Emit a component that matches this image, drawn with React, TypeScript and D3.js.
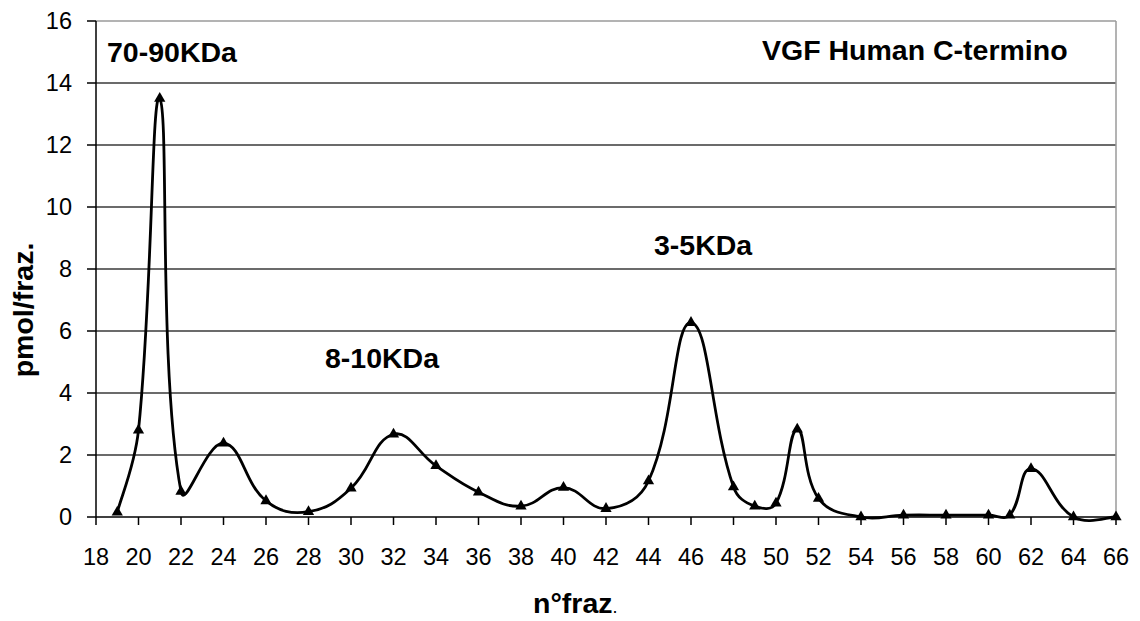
import React from "react";
import * as d3 from "d3";

// Fractions (n° fraz.) and measured amounts (pmol/fraz.)
const fractions = [19, 20, 21, 22, 24, 26, 28, 30, 32, 34, 36, 38, 40, 42, 44, 46, 48, 49, 50, 51, 52, 54, 56, 58, 60, 61, 62, 64, 66];
const pmol = [0.15, 2.8, 13.5, 0.82, 2.38, 0.52, 0.17, 0.93, 2.67, 1.65, 0.8, 0.35, 0.95, 0.27, 1.16, 6.27, 0.97, 0.35, 0.44, 2.83, 0.6, 0.0, 0.06, 0.06, 0.06, 0.06, 1.56, 0.0, 0.0];

const xTicks = d3.range(18, 67, 2);
const yTicks = d3.range(0, 17, 2);

const annotations = [
  { text: "70-90KDa", x: 107, y: 62 },
  { text: "VGF Human C-termino", x: 762, y: 60 },
  { text: "8-10KDa", x: 325, y: 368 },
  { text: "3-5KDa", x: 654, y: 255 },
];

const W = 1140;
const H = 621;
const plot = { left: 96, right: 1116, top: 21, bottom: 517 };
const FONT = "'Liberation Sans', Arial, sans-serif";

// Smoothed line: cubic Bézier segments whose tangents are weighted by the
// lengths of the neighbouring chords, which keeps overshoot small next to steep jumps.
function smoothPath(pts: [number, number][], tension = 0.42): string {
  const p = d3.path();
  const n = pts.length;
  if (!n) return "";
  const dist = (a: [number, number], b: [number, number]) => Math.hypot(b[0] - a[0], b[1] - a[1]);
  const tangent = (i: number): [number, number] => {
    const a = pts[Math.max(0, i - 1)];
    const b = pts[Math.min(n - 1, i + 1)];
    return [b[0] - a[0], b[1] - a[1]];
  };
  const weight = (i: number, j: number) => {
    // share of the chord (i -> j) among the two chords around point i
    const prev = i > 0 && i < n - 1 ? dist(pts[i - 1], pts[i]) + dist(pts[i], pts[i + 1]) : dist(pts[i], pts[j]);
    const w = dist(pts[i], pts[j]) / prev;
    return i === 0 || i === n - 1 ? w * 0.5 : w;
  };
  p.moveTo(pts[0][0], pts[0][1]);
  for (let i = 0; i < n - 1; i++) {
    const a = pts[i];
    const b = pts[i + 1];
    const ta = tangent(i);
    const tb = tangent(i + 1);
    const wa = weight(i, i + 1) * tension;
    const wb = weight(i + 1, i) * tension;
    p.bezierCurveTo(a[0] + ta[0] * wa, a[1] + ta[1] * wa, b[0] - tb[0] * wb, b[1] - tb[1] * wb, b[0], b[1]);
  }
  return p.toString();
}

export default function App() {
  const x = d3.scaleLinear().domain([18, 66]).range([plot.left, plot.right]);
  const y = d3.scaleLinear().domain([0, 16]).range([plot.bottom, plot.top]);

  const points: [number, number][] = fractions.map((f, i) => [x(f), y(pmol[i])]);
  const line = smoothPath(points);
  const tri = d3.symbol().type(d3.symbolTriangle).size(55)() || "";

  return (
    <div style={{ position: "fixed", left: 0, top: 0 }}>
      <svg width={W} height={H} style={{ display: "block", background: "#fff" }}>
        {/* horizontal gridlines */}
        {yTicks.filter((t) => t > 0 && t < 16).map((t) => (
          <line key={"g" + t} x1={plot.left} x2={plot.right} y1={y(t)} y2={y(t)} stroke="#3a3a3a" strokeWidth={1.5} />
        ))}
        {/* frame: top and right in light gray */}
        <line x1={plot.left} x2={plot.right} y1={y(16)} y2={y(16)} stroke="#9a9a9a" strokeWidth={1.5} />
        <line x1={plot.right} x2={plot.right} y1={plot.top} y2={plot.bottom} stroke="#9a9a9a" strokeWidth={1.5} />

        {/* axes */}
        <line x1={plot.left} x2={plot.left} y1={plot.top} y2={plot.bottom} stroke="#000" strokeWidth={1.5} />
        <line x1={plot.left} x2={plot.right} y1={plot.bottom} y2={plot.bottom} stroke="#000" strokeWidth={1.5} />
        {yTicks.map((t) => (
          <g key={"y" + t}>
            <line x1={plot.left - 9} x2={plot.left} y1={y(t)} y2={y(t)} stroke="#000" strokeWidth={1.5} />
            <text x={72} y={y(t)} dy="0.35em" textAnchor="end" fontFamily={FONT} fontSize={23.5} fill="#000">{t}</text>
          </g>
        ))}
        {xTicks.map((t) => (
          <g key={"x" + t}>
            <line x1={x(t)} x2={x(t)} y1={plot.bottom} y2={plot.bottom + 8} stroke="#000" strokeWidth={1.5} />
            <text x={x(t)} y={565} textAnchor="middle" fontFamily={FONT} fontSize={23.5} fill="#000">{t}</text>
          </g>
        ))}

        {/* data curve and markers */}
        <path d={line} fill="none" stroke="#000" strokeWidth={2.8} strokeLinejoin="round" />
        {points.map(([px, py], i) => (
          <path key={"m" + i} d={tri} transform={`translate(${px},${py})`} fill="#000" />
        ))}

        {/* annotations */}
        {annotations.map((a) => (
          <text key={a.text} x={a.x} y={a.y} fontFamily={FONT} fontWeight="bold" fontSize={28.5} fill="#000">{a.text}</text>
        ))}

        {/* axis titles */}
        <text transform="translate(33,310) rotate(-90)" textAnchor="middle" fontFamily={FONT} fontWeight="bold" fontSize={28.5} fill="#000">pmol/fraz.</text>
        <text x={533} y={613} fontFamily={FONT} fill="#000">
          <tspan fontWeight="bold" fontSize={28.5}>n°fraz</tspan>
          <tspan fontSize={18}>.</tspan>
        </text>
      </svg>
    </div>
  );
}
